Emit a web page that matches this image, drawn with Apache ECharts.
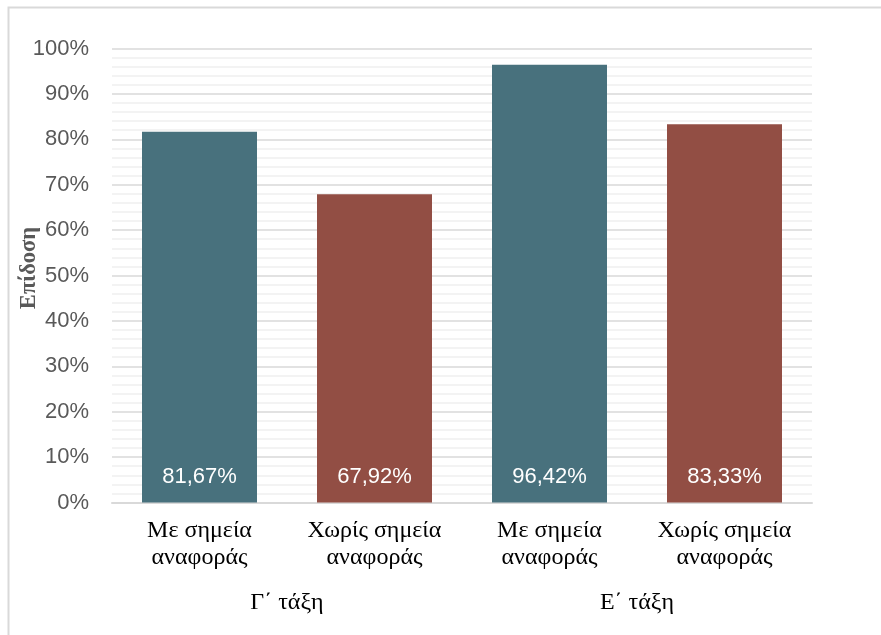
<!DOCTYPE html>
<html>
<head>
<meta charset="utf-8">
<script src="https://cdn.jsdelivr.net/npm/echarts@6/dist/echarts.min.js"></script>
<style>
  html, body { margin: 0; padding: 0; background: #fff; }
  #chart { width: 881px; height: 635px; }
</style>
</head>
<body>
<div id="chart"></div>
<script>
// Performance by condition, grouped by school grade
const categories = ['Με σημεία\nαναφοράς', 'Χωρίς σημεία\nαναφοράς', 'Με σημεία\nαναφοράς', 'Χωρίς σημεία\nαναφοράς'];
const groups = ['Γ΄ τάξη', 'Ε΄ τάξη'];
const values = [81.67, 67.92, 96.42, 83.33];
const barColors = ['#48717D', '#924E44'];
const yTitle = 'Επίδοση';

const chart = echarts.init(document.getElementById('chart'), null, { renderer: 'canvas' });

const fmtPct = v => v.toFixed(2).replace('.', ',') + '%';

chart.setOption({
  animation: false,
  backgroundColor: '#ffffff',
  grid: { left: 112, right: 69, top: 48.5, bottom: 132.5, containLabel: false },
  graphic: [
    {
      type: 'polyline',
      shape: { points: [[8.5, 635], [8.5, 7.5], [881, 7.5]] },
      style: { stroke: '#d9d9d9', lineWidth: 2, fill: null },
      silent: true
    },
    {
      // vertical axis title
      type: 'text',
      x: 29,
      y: 268,
      rotation: Math.PI / 2,
      style: {
        text: yTitle,
        fill: '#595959',
        font: 'bold 22.5px "Liberation Serif"',
        align: 'center',
        verticalAlign: 'middle'
      },
      silent: true
    }
  ],
  xAxis: [
    {
      type: 'category',
      data: categories,
      position: 'bottom',
      axisLine: { show: true, lineStyle: { color: '#d9d9d9', width: 2 } },
      axisTick: { show: false },
      axisLabel: {
        interval: 0,
        margin: 15,
        color: '#000000',
        fontFamily: 'Liberation Serif',
        fontSize: 24,
        lineHeight: 27
      }
    },
    {
      type: 'category',
      data: groups,
      position: 'bottom',
      axisLine: { show: false },
      axisTick: { show: false },
      splitLine: { show: false },
      axisLabel: {
        interval: 0,
        margin: 88,
        color: '#000000',
        fontFamily: 'Liberation Serif',
        fontSize: 24
      }
    }
  ],
  yAxis: {
    type: 'value',
    min: 0,
    max: 100,
    interval: 10,
    axisLine: { show: false },
    axisTick: { show: false },
    axisLabel: {
      margin: 23,
      color: '#595959',
      fontFamily: 'Liberation Sans',
      fontSize: 22,
      formatter: v => v + '%'
    },
    splitLine: { show: true, lineStyle: { color: '#d9d9d9', width: 1.5 } },
    minorTick: { show: false, splitNumber: 5 },
    minorSplitLine: { show: true, lineStyle: { color: '#f0f0f0', width: 1.5 } }
  },
  series: [{
    type: 'bar',
    xAxisIndex: 0,
    data: values,
    barWidth: 115,
    itemStyle: { color: p => barColors[p.dataIndex % 2] },
    label: {
      show: true,
      position: 'insideBottom',
      distance: 15,
      color: '#ffffff',
      fontFamily: 'Liberation Sans',
      fontSize: 22,
      formatter: p => fmtPct(p.value)
    }
  }]
});
</script>
</body>
</html>
